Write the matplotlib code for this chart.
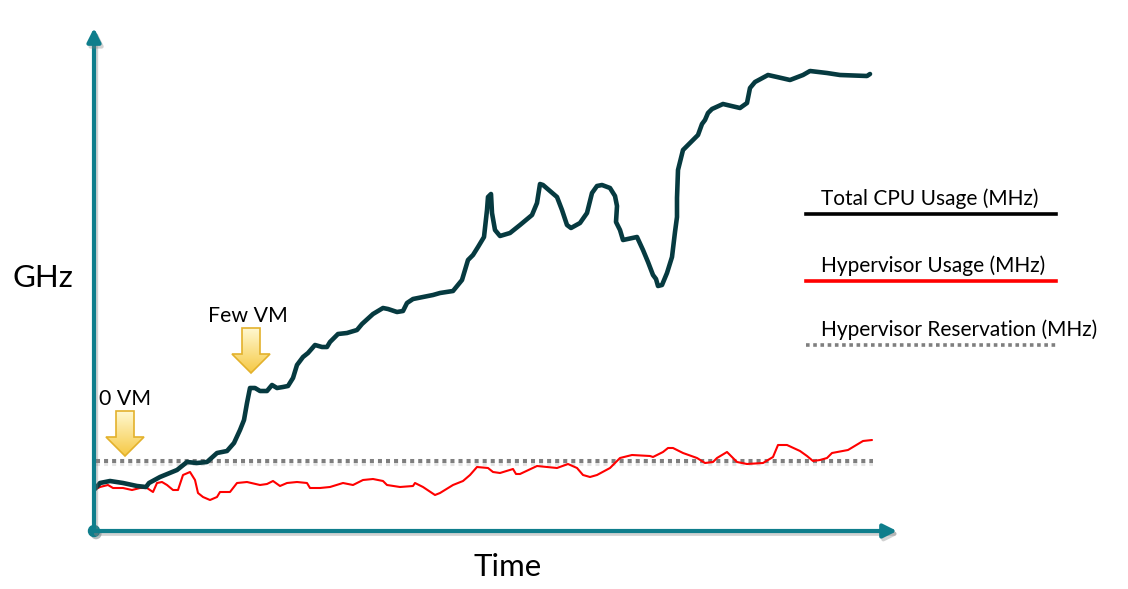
import numpy as np
import matplotlib
matplotlib.use('Agg')
import matplotlib.pyplot as plt
import matplotlib.patheffects as pe
from matplotlib.patches import Polygon, Circle

# time axis runs 0..803, value axis 0..503 (arbitrary GHz scale of the sketch)
cpu_t = [0, 6, 16, 29, 43, 52, 55, 66, 83, 93, 103, 113, 123, 133, 140, 146, 150, 153, 156,
         161, 166, 173, 178, 183, 189, 194, 199, 203, 209, 214, 221, 228, 233, 236, 244, 253,
         263, 268, 279, 289, 294, 303, 309, 313, 319, 329, 339, 346, 359, 368, 374, 379, 384,
         390, 393, 394, 397, 398, 401, 406, 416, 426, 438, 443, 446, 449, 463, 468, 473, 477,
         486, 493, 498, 503, 508, 516, 521, 523, 522, 526, 529, 543, 549, 554, 559, 562, 564,
         568, 573, 578, 581, 583, 583, 584, 589, 596, 604, 608, 611, 614, 618, 629, 646, 653,
         656, 661, 674, 683, 696, 709, 716, 733, 746, 773, 776]
cpu_v = [41, 48, 50, 48, 45, 44, 48, 54, 61, 69, 68, 69, 78, 80, 88, 101, 111, 128, 143,
         143, 140, 140, 146, 143, 144, 145, 153, 166, 174, 178, 186, 184, 184, 189, 197, 198,
         201, 207, 217, 223, 222, 219, 220, 228, 232, 234, 236, 238, 240, 251, 271, 276, 284,
         294, 321, 334, 337, 318, 301, 295, 298, 306, 316, 328, 347, 346, 334, 321, 306, 303,
         308, 318, 338, 345, 346, 343, 335, 325, 309, 301, 291, 294, 281, 269, 256, 252, 245,
         246, 258, 274, 299, 314, 333, 361, 381, 388, 396, 407, 411, 418, 422, 427, 423, 428,
         443, 449, 456, 454, 451, 456, 460, 458, 456, 455, 457]

hyp_t = [0, 6, 14, 19, 29, 38, 46, 53, 59, 63, 68, 73, 79, 84, 89, 96, 101, 104, 109, 116,
         123, 126, 136, 143, 153, 166, 173, 179, 186, 193, 203, 213, 216, 226, 236, 249, 259,
         269, 279, 289, 293, 306, 319, 321, 329, 341, 346, 359, 369, 376, 383, 394, 399, 406,
         419, 422, 426, 443, 463, 474, 483, 489, 496, 503, 516, 526, 538, 556, 559, 569, 574,
         579, 589, 603, 611, 619, 623, 633, 643, 653, 669, 679, 684, 693, 706, 713, 719, 726,
         733, 738, 754, 769, 778]
hyp_v = [41, 44, 46, 43, 43, 41, 43, 43, 39, 48, 49, 46, 41, 41, 56, 59, 51, 38, 34, 31,
         34, 39, 39, 48, 49, 46, 47, 50, 45, 48, 49, 48, 43, 43, 44, 48, 46,
         51, 52, 50, 46, 44, 45, 48, 44, 36, 38, 46, 50, 56, 64, 63, 59, 58,
         62, 57, 57, 65, 63, 67, 63, 56, 54, 56, 63, 73, 76, 75, 74, 79, 83,
         83, 78, 73, 68, 69, 73, 79, 69, 67, 68, 74, 86, 86, 80, 75, 70, 71,
         73, 78, 81, 90, 91]

reserve_t = [2, 779]
reserve_v = [70, 70]

events = ['0 VM', 'Few VM']
event_t = [31, 157]

legend_labels = ['Total CPU Usage (MHz)', 'Hypervisor Usage (MHz)', 'Hypervisor Reservation (MHz)']

TEAL = '#0f7e8c'
DARK = '#063a40'
FONT = 'Lato'

fig = plt.figure(figsize=(11.28, 5.89), dpi=100)
fig.patch.set_facecolor('white')

# overlay in pixel units for the sketch furniture
ov = fig.add_axes([0, 0, 1, 1])
ov.set_xlim(0, 1128)
ov.set_ylim(589, 0)
ov.axis('off')

ax = fig.add_axes([94 / 1128, 58 / 589, 803 / 1128, 503 / 589])
ax.set_xlim(0, 803)
ax.set_ylim(0, 503)
ax.axis('off')
ax.patch.set_alpha(0)

shadow = [pe.SimpleLineShadow(offset=(1.5, -2), shadow_color='gray', alpha=0.35), pe.Normal()]

ax.plot(reserve_t, reserve_v, color='#7f7f7f', lw=2.9, ls=(0, (1, 1)),
        path_effects=[pe.SimpleLineShadow(offset=(0, -2.5), shadow_color='gray', alpha=0.2), pe.Normal()])
ax.plot(hyp_t, hyp_v, color='red', lw=1.5, solid_joinstyle='round', solid_capstyle='round')
ax.plot(cpu_t, cpu_v, color=DARK, lw=3.3, solid_joinstyle='round', solid_capstyle='round')

# axes with arrow heads
ax.annotate('', xy=(0, 503), xytext=(0, 0), xycoords='data',
            arrowprops=dict(arrowstyle='-|>', color=TEAL, lw=3, mutation_scale=20,
                            shrinkA=0, shrinkB=0, path_effects=shadow), annotation_clip=False)
ax.annotate('', xy=(803, 0), xytext=(0, 0), xycoords='data',
            arrowprops=dict(arrowstyle='-|>', color=TEAL, lw=3, mutation_scale=20,
                            shrinkA=0, shrinkB=0, path_effects=shadow), annotation_clip=False)
ov.add_patch(Circle((94, 531), 5.5, color=TEAL, zorder=5, path_effects=[pe.SimplePatchShadow(offset=(1.5, -2), alpha=0.3), pe.Normal()]))

ov.text(43, 278, 'GHz', fontsize=22.5, family=FONT, ha='center', va='center')
ov.text(508, 567, 'Time', fontsize=22.5, family=FONT, ha='center', va='center')

# event markers (yellow block arrows)
grad = np.linspace(0, 1, 100).reshape(-1, 1)
cmap = matplotlib.colors.LinearSegmentedColormap.from_list('y', ['#fff8d0', '#f6c945'])
tips_y = [456, 373]
label_dx = [0, -3]
for name, t, ty, dx in zip(events, event_t, tips_y, label_dx):
    tx = 94 + t
    verts = [(tx - 9, ty - 45), (tx + 9, ty - 45), (tx + 9, ty - 19), (tx + 19, ty - 19),
             (tx, ty), (tx - 19, ty - 19), (tx - 9, ty - 19)]
    poly = Polygon(verts, closed=True, facecolor='none', edgecolor='#e3b12c', lw=1.2, zorder=6)
    ov.add_patch(poly)
    im = ov.imshow(grad, cmap=cmap, extent=(tx - 19, tx + 19, ty, ty - 45), aspect='auto', zorder=5)
    im.set_clip_path(poly)
    ov.text(tx + dx, ty - 57, name, fontsize=15.3, family=FONT, ha='center', va='center')
ov.set_xlim(0, 1128)
ov.set_ylim(589, 0)

# hand-made legend
leg_y = [214, 281, 345]
leg_styles = [dict(color='black', lw=2.6), dict(color='red', lw=2.6),
              dict(color='#7f7f7f', lw=2.6, ls=(0, (1, 1)))]
for lab, y, st in zip(legend_labels, leg_y, leg_styles):
    ov.plot([806, 1056], [y, y], **st)
    ov.text(821, y - 15, lab, fontsize=15, family=FONT, ha='left', va='center')

fig.savefig('out.png', dpi=100)
